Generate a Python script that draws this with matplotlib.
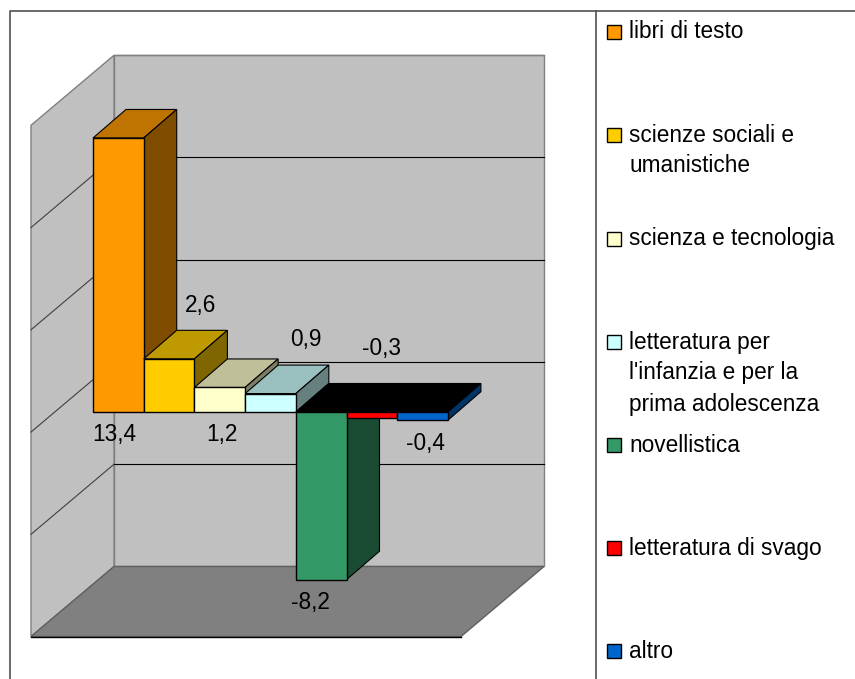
import matplotlib
matplotlib.use('Agg')
import matplotlib.pyplot as plt
from matplotlib.patches import Polygon, Rectangle

plt.rcParams['font.family'] = ['Liberation Sans', 'DejaVu Sans']

# Data
categories = ['libri di testo', 'scienze sociali e\numanistiche', 'scienza e tecnologia',
              "letteratura per\nl'infanzia e per la\nprima adolescenza", 'novellistica',
              'letteratura di svago', 'altro']
values = [13.4, 2.6, 1.2, 0.9, -8.2, -0.3, -0.4]
value_labels = ['13,4', '2,6', '1,2', '0,9', '-8,2', '-0,3', '-0,4']
grid_values = [-10, -5, 0, 5, 10, 15]

# Colours per bar: front, top, side
front_colors = ['#FF9900', '#FFCC00', '#FFFFCC', '#CCFFFF', '#339966', '#FF0000', '#0066CC']
top_colors = ['#BF7300', '#BF9900', '#BFBF99', '#99BFBF', '#000000', '#000000', '#000000']
side_colors = ['#7F4C00', '#7F6600', '#7F7F66', '#667F7F', '#1A4C33', '#7F0000', '#003366']

# Layout of the fake 3d box
PX_X = 50.7    # pixels for one bar
PX_Y = 20.45   # pixels for one unit of value
X0 = 93        # left edge of first bar, pixels
Y0 = 412       # zero line of bars, pixels
DX, DY = 33 / PX_X, 28.5 / PX_Y          # bar depth
WALL_FRONT_X, WALL_BACK_X = (31 - X0) / PX_X, (114 - X0) / PX_X
WALL_W = 430 / PX_X
WALL_FRONT_Y, WALL_BACK_Y = -0.98, 2.445

# label positions from the bar front (bar units, value units)
label_dx = [0.42, 1.13, 0.54, 1.2, 0.28, 0.7, 0.55]
label_y = [-1.1, 5.2, -1.1, 3.56, -9.3, 3.12, -1.53]

fig = plt.figure(figsize=(8.55, 6.79), dpi=100)
ax = fig.add_axes([0, 0, 1, 1])
ax.set_xlim(-X0 / PX_X, (855 - X0) / PX_X)
ax.set_ylim((Y0 - 679) / PX_Y, Y0 / PX_Y)
ax.axis('off')

# walls and floor
bottom, top = min(grid_values), max(grid_values)
ax.add_patch(Rectangle((WALL_BACK_X, bottom + WALL_BACK_Y), WALL_W, top - bottom,
                       fc='#C0C0C0', ec='#808080', lw=1))
ax.add_patch(Polygon([(WALL_FRONT_X, bottom + WALL_FRONT_Y), (WALL_BACK_X, bottom + WALL_BACK_Y),
                      (WALL_BACK_X, top + WALL_BACK_Y), (WALL_FRONT_X, top + WALL_FRONT_Y)],
                     fc='#C0C0C0', ec='#808080', lw=1))
ax.add_patch(Polygon([(WALL_FRONT_X, bottom + WALL_FRONT_Y), (WALL_FRONT_X + WALL_W, bottom + WALL_FRONT_Y),
                      (WALL_BACK_X + WALL_W, bottom + WALL_BACK_Y), (WALL_BACK_X, bottom + WALL_BACK_Y)],
                     fc='#808080', ec='#606060', lw=1))
ax.plot([WALL_FRONT_X, WALL_FRONT_X + WALL_W], [bottom + WALL_FRONT_Y] * 2, color='black', lw=1)

# gridlines
for g in grid_values[1:-1]:
    ax.plot([WALL_BACK_X, WALL_BACK_X + WALL_W], [g + WALL_BACK_Y] * 2, color='black', lw=0.8, zorder=2)
    ax.plot([WALL_FRONT_X, WALL_BACK_X], [g + WALL_FRONT_Y, g + WALL_BACK_Y], color='#404040', lw=0.8, zorder=2)
ax.plot([WALL_BACK_X, WALL_BACK_X + WALL_W], [top + WALL_BACK_Y] * 2, color='#808080', lw=1, zorder=2)

# bars, left to right
for i, v in enumerate(values):
    z = 3 + i * 0.1
    edge = 'black'
    ax.add_patch(Polygon([(i, max(v, 0)), (i + DX, max(v, 0) + DY),
                          (i + 1 + DX, max(v, 0) + DY), (i + 1, max(v, 0))],
                         fc=top_colors[i], ec=edge, lw=0.8, zorder=z))
    ax.add_patch(Polygon([(i + 1, 0), (i + 1 + DX, DY), (i + 1 + DX, v + DY), (i + 1, v)],
                         fc=side_colors[i], ec=edge, lw=0.8, zorder=z))
    ax.add_patch(Rectangle((i, 0), 1, v, fc=front_colors[i], ec=edge, lw=1, zorder=z))

# value labels
for i, lab in enumerate(value_labels):
    ax.text(i + label_dx[i], label_y[i], lab, ha='center', va='center', fontsize=16.3, color='black', zorder=6)

# outer frame and legend, in pixels
ov = fig.add_axes([0, 0, 1, 1])
ov.set_xlim(0, 855)
ov.set_ylim(679, 0)
ov.axis('off')
ov.patch.set_alpha(0)
ov.plot([9.5, 9.5, 855], [679, 11, 11], color='#505050', lw=1.2)
ov.plot([595.5, 595.5], [11, 679], color='#505050', lw=1.2)

legend_y = [32, 135, 239, 342, 445, 548, 651]
for name, y, c in zip(categories, legend_y, front_colors):
    ov.add_patch(Rectangle((607, y - 7), 14, 14, fc=c, ec='black', lw=1))
    for k, line in enumerate(name.split('\n')):
        ov.text(629, y + k * 31, line, ha='left', va='center', fontsize=16.3, color='black')

fig.savefig('out.png', dpi=100)
